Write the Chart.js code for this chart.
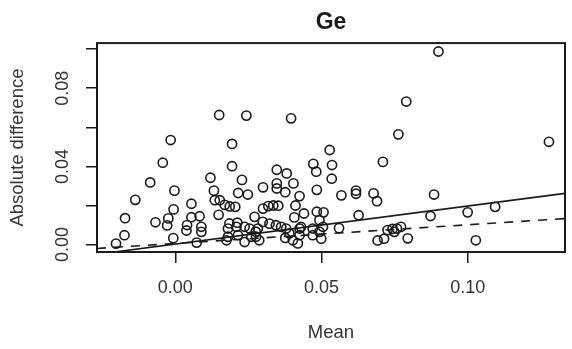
<!DOCTYPE html>
<html>
<head>
<meta charset="utf-8">
<script src="https://cdn.jsdelivr.net/npm/chart.js@4.4.1/dist/chart.umd.min.js"></script>
<style>
  html, body { margin: 0; padding: 0; background: #fff; }
  #wrap { width: 572px; height: 349px; }
</style>
</head>
<body>
<div id="wrap"><canvas id="myChart" width="572" height="349"></canvas></div>
<script>
// x = mean, y = absolute difference
var meanValues = [
  0.090, 0.079, 0.0150, 0.0243, 0.0396, 0.1278, 0.0763, -0.0016, 0.0194, 0.0528,
  -0.0043, 0.0710, 0.0194, 0.0472, 0.0536, 0.0347, 0.0381, 0.0482, 0.0120, 0.0535,
  -0.0086, 0.0228, 0.0347, 0.0404, 0.0300, 0.0347, -0.0003, 0.0132, 0.0484, 0.0215,
  0.0248, 0.0376, 0.0425, 0.0568, 0.0618, 0.0618, 0.0678, 0.0885, -0.0137, 0.0690,
  0.0055, 0.0135, 0.0152, 0.0169, 0.0186, 0.0205, 0.0300, 0.0318, 0.0335, 0.0352,
  0.0411, 0.1094, -0.0172, -0.0006, 0.0148, 0.0083, 0.0440, 0.0484, 0.0507, 0.0627,
  0.0873, 0.1000, -0.0068, -0.0024, -0.0028, 0.0055, 0.0040, 0.0038, 0.0089, 0.0089,
  0.0271, 0.0299, 0.0322, 0.0344, 0.0362, 0.0379, 0.0407, 0.0425, 0.0430, 0.0493,
  -0.0174, -0.0203, -0.0007, 0.0073, 0.0180, 0.0185, 0.0212, 0.0209, 0.0237, 0.0180,
  0.0214, 0.0175, 0.0237, 0.0254, 0.0260, 0.0275, 0.0282, 0.0276, 0.0287, 0.0390,
  0.0425, 0.0402, 0.0419, 0.0376, 0.0470, 0.0470, 0.0493, 0.0499, 0.0505, 0.0560,
  0.0692, 0.0714, 0.0726, 0.0743, 0.0758, 0.0772, 0.0749, 0.0795, 0.1028
];
var diffValues = [
  0.0988, 0.0732, 0.0663, 0.0660, 0.0646, 0.0526, 0.0564, 0.0535, 0.0515, 0.0484,
  0.0419, 0.0423, 0.0401, 0.0413, 0.0407, 0.0383, 0.0364, 0.0373, 0.0342, 0.0337,
  0.0318, 0.0331, 0.0313, 0.0313, 0.0293, 0.0287, 0.0276, 0.0276, 0.0280, 0.0264,
  0.0256, 0.0268, 0.0248, 0.0252, 0.0276, 0.0260, 0.0262, 0.0256, 0.0229, 0.0222,
  0.0209, 0.0227, 0.0227, 0.0203, 0.0195, 0.0193, 0.0184, 0.0197, 0.0200, 0.0199,
  0.0200, 0.0193, 0.0135, 0.0180, 0.0152, 0.0145, 0.0159, 0.0168, 0.0165, 0.0150,
  0.0146, 0.0165, 0.0114, 0.0134, 0.0098, 0.0140, 0.0100, 0.0072, 0.0091, 0.0065,
  0.0142, 0.0116, 0.0107, 0.0099, 0.0091, 0.0082, 0.0139, 0.0082, 0.0090, 0.0125,
  0.0048, 0.0005, 0.0033, 0.0010, 0.0082, 0.0108, 0.0112, 0.0091, 0.0091, 0.0040,
  0.0048, 0.0022, 0.0013, 0.0082, 0.0040, 0.0066, 0.0082, 0.0040, 0.0022, 0.0057,
  0.0048, 0.0022, 0.0006, 0.0034, 0.0048, 0.0082, 0.0065, 0.0030, 0.0091, 0.0084,
  0.0021, 0.0030, 0.0074, 0.0080, 0.0082, 0.0091, 0.0065, 0.0032, 0.0022
];

// the two fitted lines (end points)
var solidX = [-0.0270, 0.1333];
var solidY = [-0.0050, 0.0262];
var dashX = [-0.0268, 0.1333];
var dashY = [-0.0020, 0.0133];

var xTicks = [0, 0.05, 0.10];
var xTickLabels = ['0.00', '0.05', '0.10'];
var yTicks = [0, 0.02, 0.04, 0.06, 0.08, 0.10];
var yTickLabels = ['0.00', '', '0.04', '', '0.08', ''];

var fontFamily = "'Liberation Sans', Arial, Helvetica, sans-serif";
var ink = '#1a1a1a';

function toPoints(xs, ys) {
    return xs.map(function (x, i) { return { x: x, y: ys[i] }; });
}

// box round the plot region, like R's box()
var boxPlugin = {
    id: 'plotBox',
    afterDraw: function (chart) {
        var a = chart.chartArea;
        var ctx = chart.ctx;
        ctx.save();
        ctx.strokeStyle = ink;
        ctx.lineWidth = 2;
        ctx.strokeRect(a.left, a.top, a.right - a.left, a.bottom - a.top);
        ctx.restore();
    }
};

var ctx = document.getElementById('myChart').getContext('2d');
window.myChart = new Chart(ctx, {
    type: 'scatter',
    data: {
        datasets: [
            {
                label: 'points',
                data: toPoints(meanValues, diffValues),
                pointRadius: 4.6,
                pointBorderWidth: 1.6,
                pointBorderColor: ink,
                pointBackgroundColor: 'rgba(0,0,0,0)',
                showLine: false
            },
            {
                label: 'solid',
                type: 'line',
                data: toPoints(solidX, solidY),
                borderColor: ink,
                borderWidth: 1.6,
                pointRadius: 0,
                fill: false
            },
            {
                label: 'dashed',
                type: 'line',
                data: toPoints(dashX, dashY),
                borderColor: ink,
                borderWidth: 1.6,
                borderDash: [9, 8],
                pointRadius: 0,
                fill: false
            }
        ]
    },
    options: {
        responsive: false,
        animation: false,
        devicePixelRatio: 1,
        layout: { padding: { left: 0, right: 7, top: 0, bottom: 0 } },
        plugins: {
            legend: { display: false },
            tooltip: { enabled: false },
            title: {
                display: true,
                text: 'Ge',
                fullSize: false,
                color: ink,
                font: { family: fontFamily, size: 23, weight: 'bold' },
                padding: { top: 9, bottom: 6.5 }
            }
        },
        scales: {
            x: {
                type: 'linear',
                min: -0.0268,
                max: 0.1333,
                afterFit: function (scale) { scale.height = 97; },
                afterBuildTicks: function (scale) {
                    scale.ticks = xTicks.map(function (v) { return { value: v }; });
                },
                border: { display: false },
                grid: { drawOnChartArea: false, drawTicks: true, tickLength: 11, color: ink, lineWidth: 1.5 },
                ticks: {
                    autoSkip: false,
                    maxRotation: 0,
                    padding: 14,
                    color: '#333',
                    font: { family: fontFamily, size: 18 },
                    callback: function (value, index) { return xTickLabels[index]; }
                },
                title: {
                    display: true,
                    text: 'Mean',
                    color: '#333',
                    font: { family: fontFamily, size: 18.5 },
                    padding: { top: 0, bottom: 5 }
                }
            },
            y: {
                type: 'linear',
                min: -0.0038,
                max: 0.1031,
                afterFit: function (scale) { scale.width = 97; },
                afterBuildTicks: function (scale) {
                    scale.ticks = yTicks.map(function (v) { return { value: v }; });
                },
                border: { display: false },
                grid: { drawOnChartArea: false, drawTicks: true, tickLength: 11, color: ink, lineWidth: 1.5 },
                ticks: {
                    autoSkip: false,
                    minRotation: 90,
                    maxRotation: 90,
                    crossAlign: 'center',
                    padding: 5.5,
                    color: '#333',
                    font: { family: fontFamily, size: 18 },
                    callback: function (value, index) { return yTickLabels[index]; }
                },
                title: {
                    display: true,
                    text: 'Absolute difference',
                    color: '#333',
                    font: { family: fontFamily, size: 18.5 },
                    padding: { top: 7, bottom: 0 }
                }
            }
        }
    },
    plugins: [boxPlugin]
});
</script>
</body>
</html>
